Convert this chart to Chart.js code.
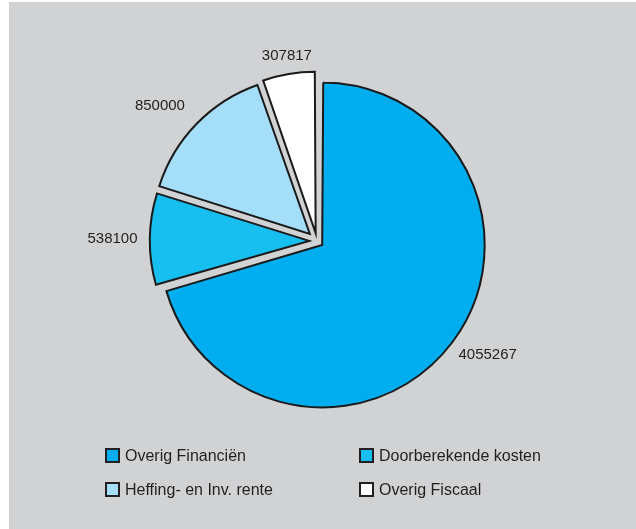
<!DOCTYPE html>
<html>
<head>
<meta charset="utf-8">
<script src="https://cdn.jsdelivr.net/npm/chart.js@4.4.1/dist/chart.umd.min.js"></script>
<style>
    html, body { margin: 0; padding: 0; background: #ffffff; }
    #panel {
        position: absolute; left: 9px; top: 2px; width: 627px; height: 527px;
        background: #d1d2d4; overflow: hidden;
    }
    #pie-wrap { position: absolute; left: 8px; top: 9px; width: 600px; height: 460px; }
    #pie-legend {
        position: absolute; left: 96px; top: 444px;
        display: grid; grid-template-columns: 254px auto; row-gap: 15px;
        font-family: "Liberation Sans", Arial, sans-serif; font-size: 16px; color: #231f20;
    }
    .lg-item { display: flex; align-items: center; height: 19px; white-space: nowrap; }
    .lg-box {
        width: 11px; height: 11px; border: 2px solid #231f20; margin-right: 5px;
        box-sizing: content-box;
    }
</style>
</head>
<body>
<div id="panel">
    <div id="pie-wrap"><canvas id="pie-chart"></canvas></div>
    <div id="pie-legend"></div>
</div>
<script>
// posten en bedragen
const categories = ["Overig Financiën", "Doorberekende kosten", "Heffing- en Inv. rente", "Overig Fiscaal"];
const amounts = [4055267, 538100, 850000, 307817];
const sliceColors = ["#00aeef", "#17bff0", "#a5def8", "#ffffff"];

// bedrag buiten elk segment, langs de middellijn
const sliceValueLabels = {
    id: 'sliceValueLabels',
    afterDatasetsDraw(chart) {
        const { ctx } = chart;
        const meta = chart.getDatasetMeta(0);
        ctx.save();
        ctx.font = '15px "Liberation Sans", Arial, sans-serif';
        ctx.fillStyle = '#231f20';
        meta.data.forEach((arc, i) => {
            const { x, y, startAngle, endAngle, outerRadius } = arc.getProps(['x', 'y', 'startAngle', 'endAngle', 'outerRadius'], true);
            const mid = (startAngle + endAngle) / 2;
            const cx = Math.cos(mid), cy = Math.sin(mid);
            const r = outerRadius + (arc.options.offset || 0) / 2 + 8;
            ctx.textAlign = cx < -0.3 ? 'right' : (cx > 0.3 ? 'left' : 'center');
            ctx.textBaseline = cy < -0.3 ? 'bottom' : (cy > 0.3 ? 'top' : 'middle');
            ctx.fillText(String(chart.data.datasets[0].data[i]), x + cx * r, y + cy * r);
        });
        ctx.restore();
    }
};

const chart = new Chart(document.getElementById('pie-chart'), {
    type: 'pie',
    data: {
        labels: categories,
        datasets: [{
            data: amounts,
            backgroundColor: sliceColors,
            borderColor: '#1a1a1a',
            borderWidth: 2,
            borderJoinStyle: 'miter',
            // Chart.js schuift een segment offset/4 px uit, smalle segmenten hebben meer nodig
            offset: [26, 31, 40, 32],
            hoverOffset: 0
        }]
    },
    options: {
        responsive: true, maintainAspectRatio: false,
        animation: false,
        radius: 156,
        plugins: {
            legend: { display: false },
            tooltip: { enabled: false }
        }
    },
    plugins: [sliceValueLabels]
});

// legenda in twee kolommen
const legendEl = document.getElementById('pie-legend');
chart.data.labels.forEach((label, i) => {
    const item = document.createElement('div');
    item.className = 'lg-item';
    const box = document.createElement('span');
    box.className = 'lg-box';
    box.style.background = chart.data.datasets[0].backgroundColor[i];
    const txt = document.createElement('span');
    txt.textContent = label;
    item.appendChild(box);
    item.appendChild(txt);
    legendEl.appendChild(item);
});
</script>
</body>
</html>
